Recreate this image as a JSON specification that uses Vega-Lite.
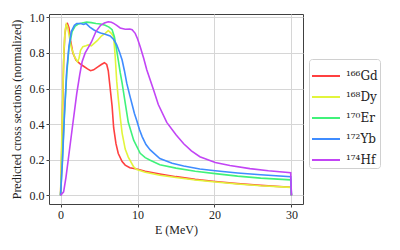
{
  "$schema": "https://vega.github.io/schema/vega-lite/v6.json",
  "width": 254,
  "height": 190,
  "autosize": {"type": "none"},
  "padding": {"left": 49, "top": 14, "right": 97, "bottom": 46},
  "config": {
    "font": "Liberation Serif",
    "view": {"stroke": "#404040", "strokeWidth": 1},
    "axis": {
      "labelFont": "Liberation Serif",
      "titleFont": "Liberation Serif",
      "labelFontSize": 12,
      "titleFontSize": 12,
      "titleFontWeight": "normal",
      "labelColor": "#222",
      "titleColor": "#222",
      "gridColor": "#d6d6d6",
      "gridWidth": 1,
      "domain": false,
      "tickColor": "#404040",
      "tickSize": 3,
      "labelPadding": 2
    },
    "legend": {
      "orient": "none",
      "legendX": 260,
      "legendY": 45,
      "strokeColor": "#d0d0d0",
      "fillColor": "white",
      "cornerRadius": 3,
      "padding": 2,
      "symbolType": "stroke",
      "symbolSize": 784,
      "symbolStrokeWidth": 2,
      "labelFont": "DejaVu Serif",
      "labelFontSize": 12,
      "labelColor": "#222",
      "labelOffset": 5,
      "rowPadding": -8.8
    }
  },
  "data": {
    "values": [
      {"iso": "¹⁶⁶Gd", "E": 0, "v": 0},
      {"iso": "¹⁶⁶Gd", "E": 0.1, "v": 0.15},
      {"iso": "¹⁶⁶Gd", "E": 0.25, "v": 0.45},
      {"iso": "¹⁶⁶Gd", "E": 0.4, "v": 0.75},
      {"iso": "¹⁶⁶Gd", "E": 0.55, "v": 0.9},
      {"iso": "¹⁶⁶Gd", "E": 0.75, "v": 0.96},
      {"iso": "¹⁶⁶Gd", "E": 0.9, "v": 0.965},
      {"iso": "¹⁶⁶Gd", "E": 1.1, "v": 0.94},
      {"iso": "¹⁶⁶Gd", "E": 1.3, "v": 0.87},
      {"iso": "¹⁶⁶Gd", "E": 1.6, "v": 0.8},
      {"iso": "¹⁶⁶Gd", "E": 2.0, "v": 0.76},
      {"iso": "¹⁶⁶Gd", "E": 2.5, "v": 0.74},
      {"iso": "¹⁶⁶Gd", "E": 3.0, "v": 0.725},
      {"iso": "¹⁶⁶Gd", "E": 3.5, "v": 0.71},
      {"iso": "¹⁶⁶Gd", "E": 3.9, "v": 0.7},
      {"iso": "¹⁶⁶Gd", "E": 4.3, "v": 0.705},
      {"iso": "¹⁶⁶Gd", "E": 4.8, "v": 0.72},
      {"iso": "¹⁶⁶Gd", "E": 5.3, "v": 0.735},
      {"iso": "¹⁶⁶Gd", "E": 5.7, "v": 0.745},
      {"iso": "¹⁶⁶Gd", "E": 6.0, "v": 0.735},
      {"iso": "¹⁶⁶Gd", "E": 6.2, "v": 0.7},
      {"iso": "¹⁶⁶Gd", "E": 6.45, "v": 0.6},
      {"iso": "¹⁶⁶Gd", "E": 6.7, "v": 0.5},
      {"iso": "¹⁶⁶Gd", "E": 6.9, "v": 0.38},
      {"iso": "¹⁶⁶Gd", "E": 7.2, "v": 0.29},
      {"iso": "¹⁶⁶Gd", "E": 7.5, "v": 0.235},
      {"iso": "¹⁶⁶Gd", "E": 8.0, "v": 0.19},
      {"iso": "¹⁶⁶Gd", "E": 8.4, "v": 0.17},
      {"iso": "¹⁶⁶Gd", "E": 9.0, "v": 0.155},
      {"iso": "¹⁶⁶Gd", "E": 9.9, "v": 0.148},
      {"iso": "¹⁶⁶Gd", "E": 11, "v": 0.135},
      {"iso": "¹⁶⁶Gd", "E": 12.9, "v": 0.12},
      {"iso": "¹⁶⁶Gd", "E": 15, "v": 0.105},
      {"iso": "¹⁶⁶Gd", "E": 17.5, "v": 0.09},
      {"iso": "¹⁶⁶Gd", "E": 20.1, "v": 0.078},
      {"iso": "¹⁶⁶Gd", "E": 23, "v": 0.066},
      {"iso": "¹⁶⁶Gd", "E": 26, "v": 0.056},
      {"iso": "¹⁶⁶Gd", "E": 29.9, "v": 0.046},
      {"iso": "¹⁶⁶Gd", "E": 30, "v": 0},

      {"iso": "¹⁶⁸Dy", "E": 0, "v": 0},
      {"iso": "¹⁶⁸Dy", "E": 0.1, "v": 0.2},
      {"iso": "¹⁶⁸Dy", "E": 0.25, "v": 0.5},
      {"iso": "¹⁶⁸Dy", "E": 0.45, "v": 0.82},
      {"iso": "¹⁶⁸Dy", "E": 0.6, "v": 0.93},
      {"iso": "¹⁶⁸Dy", "E": 0.75, "v": 0.962},
      {"iso": "¹⁶⁸Dy", "E": 0.9, "v": 0.95},
      {"iso": "¹⁶⁸Dy", "E": 1.1, "v": 0.9},
      {"iso": "¹⁶⁸Dy", "E": 1.4, "v": 0.83},
      {"iso": "¹⁶⁸Dy", "E": 1.8, "v": 0.78},
      {"iso": "¹⁶⁸Dy", "E": 2.2, "v": 0.75},
      {"iso": "¹⁶⁸Dy", "E": 2.4, "v": 0.77},
      {"iso": "¹⁶⁸Dy", "E": 2.6, "v": 0.815},
      {"iso": "¹⁶⁸Dy", "E": 2.9, "v": 0.835},
      {"iso": "¹⁶⁸Dy", "E": 3.3, "v": 0.84},
      {"iso": "¹⁶⁸Dy", "E": 3.6, "v": 0.845},
      {"iso": "¹⁶⁸Dy", "E": 4.0, "v": 0.84},
      {"iso": "¹⁶⁸Dy", "E": 4.4, "v": 0.855},
      {"iso": "¹⁶⁸Dy", "E": 4.8, "v": 0.87},
      {"iso": "¹⁶⁸Dy", "E": 5.3, "v": 0.895},
      {"iso": "¹⁶⁸Dy", "E": 5.8, "v": 0.91},
      {"iso": "¹⁶⁸Dy", "E": 6.2, "v": 0.925},
      {"iso": "¹⁶⁸Dy", "E": 6.6, "v": 0.91},
      {"iso": "¹⁶⁸Dy", "E": 6.9, "v": 0.89},
      {"iso": "¹⁶⁸Dy", "E": 7.1, "v": 0.78},
      {"iso": "¹⁶⁸Dy", "E": 7.3, "v": 0.64},
      {"iso": "¹⁶⁸Dy", "E": 7.5, "v": 0.545},
      {"iso": "¹⁶⁸Dy", "E": 7.75, "v": 0.44},
      {"iso": "¹⁶⁸Dy", "E": 8.0, "v": 0.35},
      {"iso": "¹⁶⁸Dy", "E": 8.4, "v": 0.26},
      {"iso": "¹⁶⁸Dy", "E": 8.8, "v": 0.215},
      {"iso": "¹⁶⁸Dy", "E": 9.5, "v": 0.16},
      {"iso": "¹⁶⁸Dy", "E": 9.9, "v": 0.145},
      {"iso": "¹⁶⁸Dy", "E": 11, "v": 0.13},
      {"iso": "¹⁶⁸Dy", "E": 12.9, "v": 0.113},
      {"iso": "¹⁶⁸Dy", "E": 15, "v": 0.1},
      {"iso": "¹⁶⁸Dy", "E": 17.5, "v": 0.086},
      {"iso": "¹⁶⁸Dy", "E": 20.1, "v": 0.075},
      {"iso": "¹⁶⁸Dy", "E": 23, "v": 0.064},
      {"iso": "¹⁶⁸Dy", "E": 26, "v": 0.054},
      {"iso": "¹⁶⁸Dy", "E": 29.9, "v": 0.045},
      {"iso": "¹⁶⁸Dy", "E": 30, "v": 0},

      {"iso": "¹⁷⁰Er", "E": 0, "v": 0},
      {"iso": "¹⁷⁰Er", "E": 0.2, "v": 0.17},
      {"iso": "¹⁷⁰Er", "E": 0.5, "v": 0.45},
      {"iso": "¹⁷⁰Er", "E": 0.8, "v": 0.68},
      {"iso": "¹⁷⁰Er", "E": 1.1, "v": 0.83},
      {"iso": "¹⁷⁰Er", "E": 1.5, "v": 0.92},
      {"iso": "¹⁷⁰Er", "E": 1.9, "v": 0.95},
      {"iso": "¹⁷⁰Er", "E": 2.3, "v": 0.962},
      {"iso": "¹⁷⁰Er", "E": 2.8, "v": 0.968},
      {"iso": "¹⁷⁰Er", "E": 3.4, "v": 0.973},
      {"iso": "¹⁷⁰Er", "E": 4.0, "v": 0.97},
      {"iso": "¹⁷⁰Er", "E": 4.6, "v": 0.965},
      {"iso": "¹⁷⁰Er", "E": 5.2, "v": 0.962},
      {"iso": "¹⁷⁰Er", "E": 5.8, "v": 0.955},
      {"iso": "¹⁷⁰Er", "E": 6.3, "v": 0.945},
      {"iso": "¹⁷⁰Er", "E": 6.7, "v": 0.93},
      {"iso": "¹⁷⁰Er", "E": 7.0, "v": 0.89},
      {"iso": "¹⁷⁰Er", "E": 7.2, "v": 0.84},
      {"iso": "¹⁷⁰Er", "E": 7.5, "v": 0.76},
      {"iso": "¹⁷⁰Er", "E": 7.75, "v": 0.69},
      {"iso": "¹⁷⁰Er", "E": 8.0, "v": 0.63},
      {"iso": "¹⁷⁰Er", "E": 8.4, "v": 0.52},
      {"iso": "¹⁷⁰Er", "E": 8.8, "v": 0.41},
      {"iso": "¹⁷⁰Er", "E": 9.5, "v": 0.31},
      {"iso": "¹⁷⁰Er", "E": 10.35, "v": 0.236},
      {"iso": "¹⁷⁰Er", "E": 11.0, "v": 0.212},
      {"iso": "¹⁷⁰Er", "E": 11.65, "v": 0.197},
      {"iso": "¹⁷⁰Er", "E": 12.9, "v": 0.172},
      {"iso": "¹⁷⁰Er", "E": 15, "v": 0.153},
      {"iso": "¹⁷⁰Er", "E": 17.5, "v": 0.135},
      {"iso": "¹⁷⁰Er", "E": 20.1, "v": 0.122},
      {"iso": "¹⁷⁰Er", "E": 23, "v": 0.108},
      {"iso": "¹⁷⁰Er", "E": 26, "v": 0.097},
      {"iso": "¹⁷⁰Er", "E": 29.9, "v": 0.087},
      {"iso": "¹⁷⁰Er", "E": 30, "v": 0},

      {"iso": "¹⁷²Yb", "E": 0, "v": 0},
      {"iso": "¹⁷²Yb", "E": 0.26, "v": 0.2},
      {"iso": "¹⁷²Yb", "E": 0.5, "v": 0.45},
      {"iso": "¹⁷²Yb", "E": 0.8, "v": 0.7},
      {"iso": "¹⁷²Yb", "E": 1.1, "v": 0.84},
      {"iso": "¹⁷²Yb", "E": 1.4, "v": 0.92},
      {"iso": "¹⁷²Yb", "E": 1.8, "v": 0.955},
      {"iso": "¹⁷²Yb", "E": 2.1, "v": 0.965},
      {"iso": "¹⁷²Yb", "E": 2.6, "v": 0.965},
      {"iso": "¹⁷²Yb", "E": 3.0, "v": 0.96},
      {"iso": "¹⁷²Yb", "E": 3.3, "v": 0.965},
      {"iso": "¹⁷²Yb", "E": 3.8, "v": 0.945},
      {"iso": "¹⁷²Yb", "E": 4.3, "v": 0.93},
      {"iso": "¹⁷²Yb", "E": 4.7, "v": 0.92},
      {"iso": "¹⁷²Yb", "E": 5.2, "v": 0.912},
      {"iso": "¹⁷²Yb", "E": 5.8, "v": 0.905},
      {"iso": "¹⁷²Yb", "E": 6.45, "v": 0.895},
      {"iso": "¹⁷²Yb", "E": 6.9, "v": 0.875},
      {"iso": "¹⁷²Yb", "E": 7.3, "v": 0.845},
      {"iso": "¹⁷²Yb", "E": 7.7, "v": 0.8},
      {"iso": "¹⁷²Yb", "E": 8.0, "v": 0.76},
      {"iso": "¹⁷²Yb", "E": 8.3, "v": 0.7},
      {"iso": "¹⁷²Yb", "E": 8.6, "v": 0.63},
      {"iso": "¹⁷²Yb", "E": 9.0, "v": 0.56},
      {"iso": "¹⁷²Yb", "E": 9.3, "v": 0.51},
      {"iso": "¹⁷²Yb", "E": 9.6, "v": 0.46},
      {"iso": "¹⁷²Yb", "E": 9.9, "v": 0.42},
      {"iso": "¹⁷²Yb", "E": 10.25, "v": 0.37},
      {"iso": "¹⁷²Yb", "E": 10.6, "v": 0.33},
      {"iso": "¹⁷²Yb", "E": 11.1, "v": 0.285},
      {"iso": "¹⁷²Yb", "E": 11.65, "v": 0.255},
      {"iso": "¹⁷²Yb", "E": 12.9, "v": 0.207},
      {"iso": "¹⁷²Yb", "E": 14.5, "v": 0.18},
      {"iso": "¹⁷²Yb", "E": 16, "v": 0.165},
      {"iso": "¹⁷²Yb", "E": 18.1, "v": 0.148},
      {"iso": "¹⁷²Yb", "E": 20.1, "v": 0.138},
      {"iso": "¹⁷²Yb", "E": 23, "v": 0.126},
      {"iso": "¹⁷²Yb", "E": 26, "v": 0.116},
      {"iso": "¹⁷²Yb", "E": 29.9, "v": 0.105},
      {"iso": "¹⁷²Yb", "E": 30, "v": 0},

      {"iso": "¹⁷⁴Hf", "E": 0, "v": 0},
      {"iso": "¹⁷⁴Hf", "E": 0.4, "v": 0.02},
      {"iso": "¹⁷⁴Hf", "E": 0.7, "v": 0.1},
      {"iso": "¹⁷⁴Hf", "E": 1.0, "v": 0.2},
      {"iso": "¹⁷⁴Hf", "E": 1.5, "v": 0.37},
      {"iso": "¹⁷⁴Hf", "E": 2.1, "v": 0.57},
      {"iso": "¹⁷⁴Hf", "E": 2.5, "v": 0.68},
      {"iso": "¹⁷⁴Hf", "E": 2.8, "v": 0.75},
      {"iso": "¹⁷⁴Hf", "E": 3.2, "v": 0.8},
      {"iso": "¹⁷⁴Hf", "E": 3.6, "v": 0.83},
      {"iso": "¹⁷⁴Hf", "E": 4.0, "v": 0.86},
      {"iso": "¹⁷⁴Hf", "E": 4.6, "v": 0.92},
      {"iso": "¹⁷⁴Hf", "E": 5.2, "v": 0.955},
      {"iso": "¹⁷⁴Hf", "E": 5.7, "v": 0.968},
      {"iso": "¹⁷⁴Hf", "E": 6.2, "v": 0.975},
      {"iso": "¹⁷⁴Hf", "E": 6.6, "v": 0.972},
      {"iso": "¹⁷⁴Hf", "E": 6.9, "v": 0.966},
      {"iso": "¹⁷⁴Hf", "E": 7.3, "v": 0.955},
      {"iso": "¹⁷⁴Hf", "E": 7.75, "v": 0.94},
      {"iso": "¹⁷⁴Hf", "E": 8.4, "v": 0.933},
      {"iso": "¹⁷⁴Hf", "E": 9.0, "v": 0.934},
      {"iso": "¹⁷⁴Hf", "E": 9.3, "v": 0.93},
      {"iso": "¹⁷⁴Hf", "E": 9.7, "v": 0.91},
      {"iso": "¹⁷⁴Hf", "E": 10.0, "v": 0.88},
      {"iso": "¹⁷⁴Hf", "E": 10.35, "v": 0.835},
      {"iso": "¹⁷⁴Hf", "E": 10.8, "v": 0.77},
      {"iso": "¹⁷⁴Hf", "E": 11.2, "v": 0.705},
      {"iso": "¹⁷⁴Hf", "E": 12.1, "v": 0.59},
      {"iso": "¹⁷⁴Hf", "E": 12.7, "v": 0.51},
      {"iso": "¹⁷⁴Hf", "E": 13.8, "v": 0.41},
      {"iso": "¹⁷⁴Hf", "E": 15, "v": 0.34},
      {"iso": "¹⁷⁴Hf", "E": 16, "v": 0.29},
      {"iso": "¹⁷⁴Hf", "E": 17, "v": 0.25},
      {"iso": "¹⁷⁴Hf", "E": 18.1, "v": 0.217},
      {"iso": "¹⁷⁴Hf", "E": 20.1, "v": 0.185},
      {"iso": "¹⁷⁴Hf", "E": 22, "v": 0.168},
      {"iso": "¹⁷⁴Hf", "E": 24.6, "v": 0.15},
      {"iso": "¹⁷⁴Hf", "E": 27, "v": 0.138},
      {"iso": "¹⁷⁴Hf", "E": 29.9, "v": 0.127},
      {"iso": "¹⁷⁴Hf", "E": 30, "v": 0}
    ]
  },
  "mark": {"type": "line", "strokeWidth": 1.6, "clip": true},
  "encoding": {
    "x": {
      "field": "E",
      "type": "quantitative",
      "scale": {"domain": [-1.5, 31.5], "nice": false, "zero": false},
      "axis": {"values": [0, 10, 20, 30], "title": "E (MeV)", "titlePadding": 4}
    },
    "y": {
      "field": "v",
      "type": "quantitative",
      "scale": {"domain": [-0.0485, 1.0185], "nice": false, "zero": false},
      "axis": {"values": [0, 0.2, 0.4, 0.6, 0.8, 1.0], "format": ".1f", "title": "Predicted cross sections (normalized)", "titlePadding": 6}
    },
    "color": {
      "field": "iso",
      "type": "nominal",
      "scale": {
        "domain": ["¹⁶⁶Gd", "¹⁶⁸Dy", "¹⁷⁰Er", "¹⁷²Yb", "¹⁷⁴Hf"],
        "range": ["#ff4040", "#e2f53c", "#40f27a", "#3f8cff", "#c245f5"]
      },
      "legend": {"title": null}
    }
  }
}
